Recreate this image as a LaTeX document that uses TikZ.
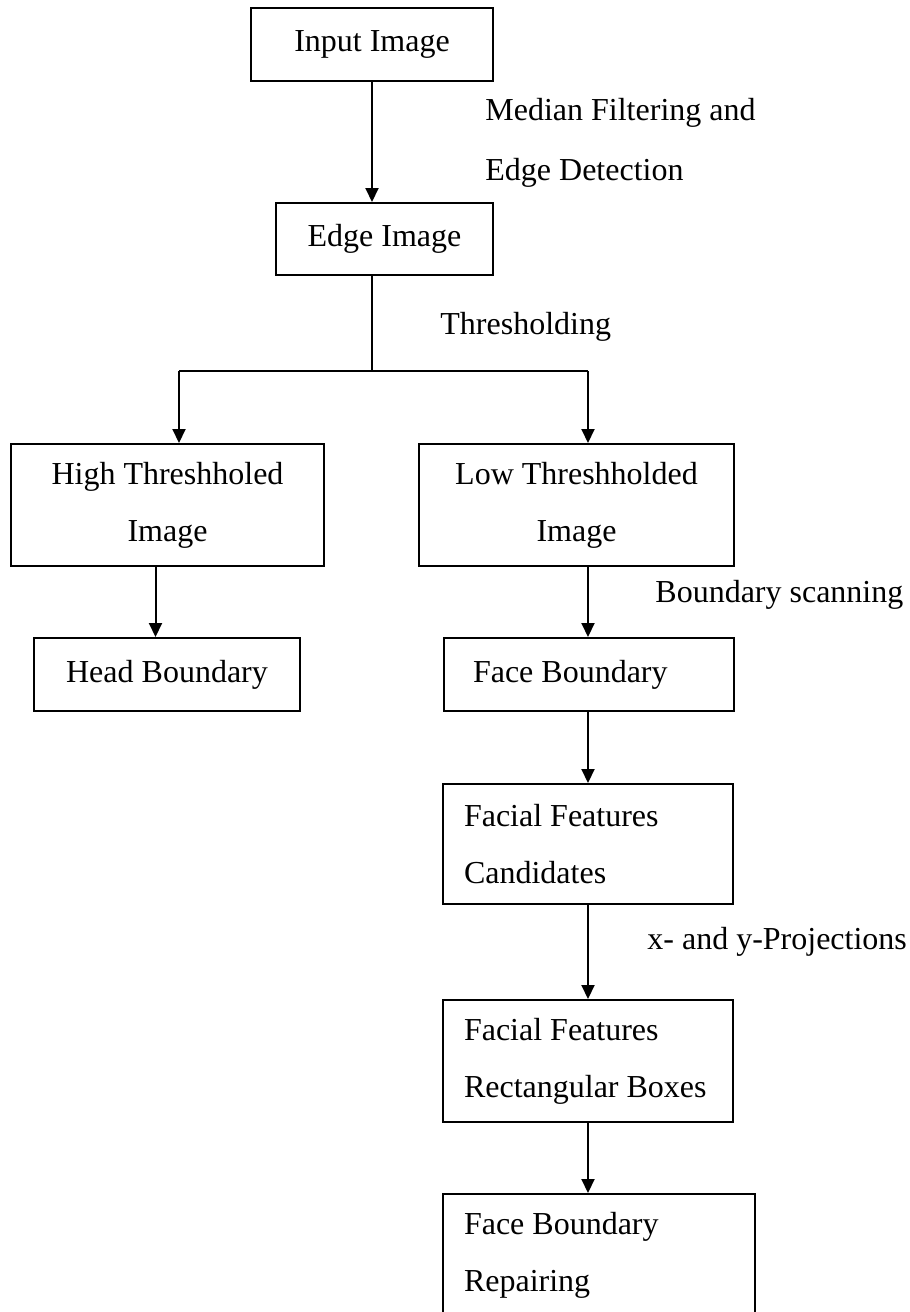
\documentclass[tikz,border=0pt]{standalone}
\usepackage{fontspec}
\setmainfont{Liberation Serif}
\usetikzlibrary{arrows.meta}

\tikzset{
    box/.style={draw, line width=1pt, inner ysep=0pt, anchor=north west,
        font=\fontsize{16}{28.5}\selectfont},
    lbl/.style={inner sep=0pt, anchor=west, align=flush left,
        font=\fontsize{16}{30}\selectfont},
    arr/.style={line width=1pt, -{Triangle[length=7pt,width=6.5pt]}}
}

\begin{document}
\begin{tikzpicture}[x=0.5pt, y=-0.5pt] %px
            \useasboundingbox (0,0) rectangle (910,1312);

            % boxes
            \node[box, minimum width=121pt, minimum height=36.5pt, align=flush center] (input) at (250,7) {Input Image};
            \node[box, minimum width=108.5pt, minimum height=36pt, align=flush center] (edge) at (275,202) {Edge Image};
            \node[box, minimum width=156.5pt, minimum height=61pt, align=flush center] (high) at (10,443) {High Threshholed\\Image};
            \node[box, minimum width=157.5pt, minimum height=61pt, align=flush center] (low) at (418,443) {Low Threshholded\\Image};
            \node[box, minimum width=133pt, minimum height=36.5pt, align=flush center] (head) at (33,637) {Head Boundary};
            \node[box, minimum width=145pt, minimum height=36.5pt, inner xsep=14.5pt, text width=116pt, align=flush left] (face) at (443,637) {Face Boundary};
            \node[box, minimum width=145pt, minimum height=60pt, inner xsep=10.5pt, text width=124pt, align=flush left] (cand) at (442,783) {Facial Features\\Candidates};
            \node[box, minimum width=145pt, minimum height=61pt, inner xsep=10.5pt, text width=124pt, align=flush left] (rect) at (442,999) {Facial Features\\Rectangular Boxes};
            \node[box, minimum width=156pt, minimum height=61pt, inner xsep=10.5pt, text width=135pt, align=flush left] (repair) at (442,1193) {Face Boundary\\Repairing};

            % labels
            \node[lbl] (median) at (485,143) {Median Filtering and\\Edge Detection};
            \node[lbl] (thresh) at (440,327) {Thresholding};
            \node[lbl] (scan) at (655,595) {Boundary scanning};
            \node[lbl] (proj) at (647,942) {x- and y-Projections};

            % connectors
            \coordinate (split) at (372,371);
            \coordinate (lsplit) at (179,371);
            \coordinate (rsplit) at (588,371);

            \draw[arr] (input.south -| split) -- (edge.north -| split);
            \draw[line width=1pt] (edge.south -| split) -- (split);
            \draw[line width=1pt] (lsplit) -- (rsplit);
            \draw[arr] (lsplit) -- (high.north -| lsplit);
            \draw[arr] (rsplit) -- (low.north -| rsplit);

            \draw[arr] ([xshift=-6pt]high.south) -- ([xshift=-6pt]high.south |- head.north);
            \draw[arr] (low.south -| rsplit) -- (face.north -| rsplit);
            \draw[arr] (face.south -| rsplit) -- (cand.north -| rsplit);
            \draw[arr] (cand.south -| rsplit) -- (rect.north -| rsplit);
            \draw[arr] (rect.south -| rsplit) -- (repair.north -| rsplit);
        \end{tikzpicture}
\end{document}
